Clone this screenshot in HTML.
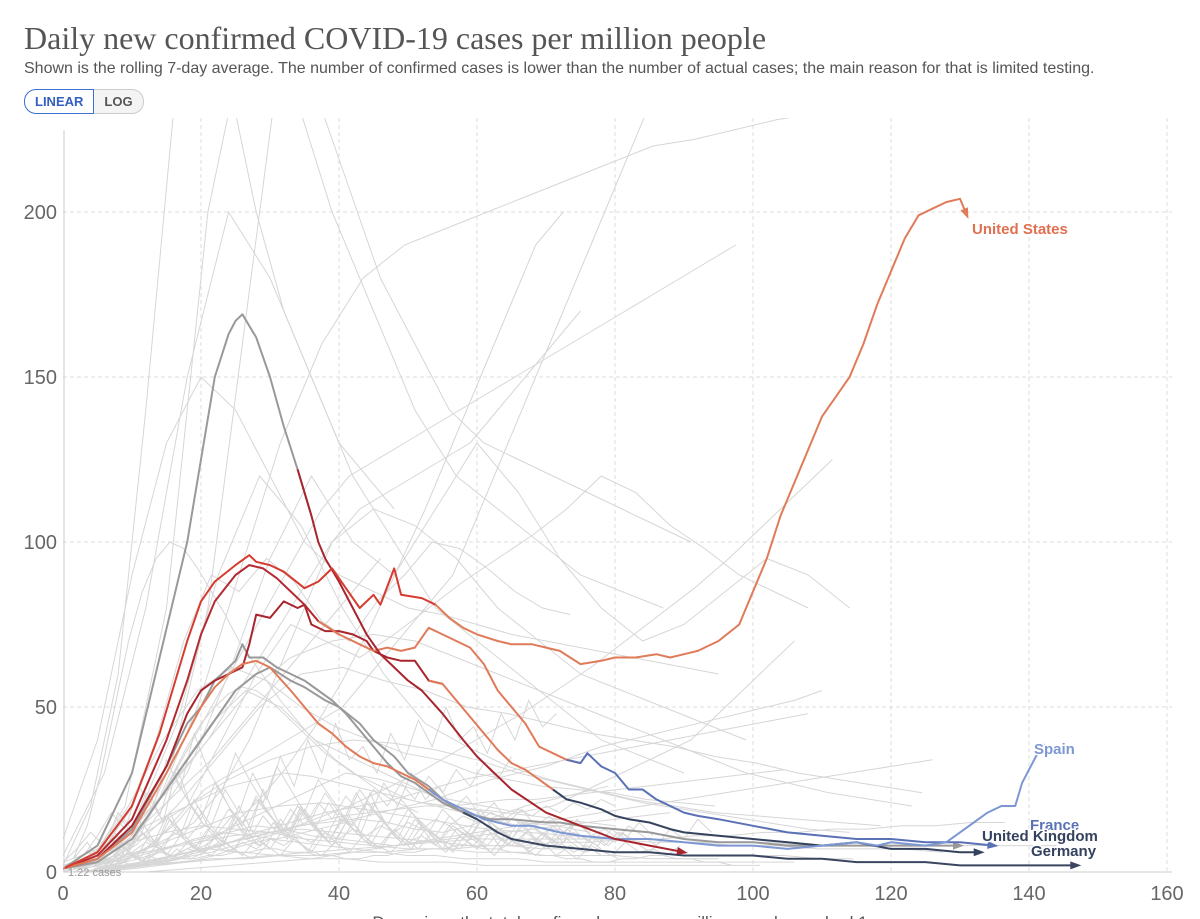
<!DOCTYPE html>
<html><head><meta charset="utf-8"><style>
body{margin:0;background:#fff;font-family:"Liberation Sans",sans-serif;}
#wrap{position:relative;width:1200px;height:919px;overflow:hidden;}
h1{position:absolute;left:24px;top:20px;margin:0;font-family:"Liberation Serif",serif;font-weight:normal;font-size:32px;color:#555;}
.sub{position:absolute;left:24px;top:60px;font-size:16px;color:#555;}
.btns{position:absolute;left:24px;top:89px;display:flex;}
.btn{font-size:13px;font-weight:bold;padding:4px 10px;border:1px solid #ccc;color:#555;background:#f4f4f4;}
.btn.on{color:#3360c0;border:1px solid #3b6fd0;background:#fff;border-radius:12px 0 0 12px;}
.btn.off{border-radius:0 12px 12px 0;border-left:none;}
</style></head><body><div id="wrap">
<h1>Daily new confirmed COVID-19 cases per million people</h1>
<div class="sub">Shown is the rolling 7-day average. The number of confirmed cases is lower than the number of actual cases; the main reason for that is limited testing.</div>
<div class="btns"><div class="btn on">LINEAR</div><div class="btn off">LOG</div></div>
<svg id="svg" width="1200" height="919" style="position:absolute;left:0;top:0"></svg>
</div>
<script>
const xTicks=[0,20,40,60,80,100,120,140,160];
const yTicks=[0,50,100,150,200];
const bgSeries=[
[2,20,60,140,230,260,240,200,170,150,130,120,110],
[1,5,15,30,45,55,50,40,35,30,25,20,18,15,14,12],
[3,10,25,40,60,80,100,110,105,95,80,70,60,55,50,45,40],
[1,3,8,15,25,30,35,40,45,50,60,70,80,90,110,130,150,170,190,210,230],
[0,2,5,10,15,20,25,30,28,25,22,20,18,20,25,30,35,40,50,60,70],
[5,30,80,150,200,180,150,120,100,80,70,60,50,40,35,30],
[1,4,10,20,35,50,65,80,95,110,120,125,130,135,140,145,150,155,160,165,170,175,180,185,190],
[0,1,3,5,8,12,15,18,20,22,25,28,30,32,34,36,38,40,42,44,46,48],
[2,8,20,35,50,60,62,58,55,50,48,45,42,40,38,35,33,30,28,26,24],
[1,2,4,6,8,10,12,14,15,16,18,20,22,25,28,30,32,35,38,40,42,44,46,48,50,52,55],
[10,40,90,130,150,140,120,100,90,85,80,78,75,72,70,68,66,64,62,60],
[0,5,20,50,90,130,160,180,190,195,200,205,210,215,220,222,225,228,230],
[1,3,6,10,15,25,40,60,80,100,110,115,120,125,130,140,150,160,170],
[2,4,7,9,11,12,13,12,11,10,9,8,8,7,7,6,6,5,5,5,5,4,4],
[1,2,3,4,5,6,7,8,9,10,10,10,10,10,9,9,9,8,8,8,8,8,8,8],
[3,6,10,14,18,22,26,28,30,29,27,25,23,21,20,19,18,17,16,15,14],
[0,1,2,4,6,9,12,16,20,25,30,36,42,48,55,62,70,78,86,95,105,115,125],
[4,12,24,40,55,65,70,72,70,65,60,55,50,45,40,35,30,27,24,22,20],
[1,2,3,5,7,9,11,13,15,17,18,19,20,20,21,22,22,23,24,25,26,27,28,29,30,31],
[2,10,35,80,160,240,240,210,180,160,140,130,125,120,115,110,105,100],
[0,3,12,30,60,95,120,100,90,110,130,115,95,80,70,75,85,95,90,80],
[1,6,18,40,70,90,85,95,88,76,70,82,90,100,98,92,85,80,78],
[0,2,8,20,40,60,75,70,65,72,80,88,95,102,110,120,115,105,98,90,85,80],
[3,15,45,90,120,105,80,60,45,38,32,28,25,22,20,18,17,16,15,14],
[0,1,2,3,5,8,10,9,8,7,6,5,5,4,4,4,3,3,3,3,3,3,3,3,3,3],
[2,5,9,12,14,13,12,10,9,8,7,7,6,6,5,5,5,4,4,4],
[1,4,8,13,18,20,21,19,17,15,13,12,11,10,9,9,8,8,7,7,7,6],
[0,2,4,7,10,12,11,10,12,14,16,15,13,12,14,17,20,22,24,26],
[5,20,40,55,62,58,50,44,40,36,34,30,28,26,25,24,22,21,20],
[0,0,1,2,3,4,6,8,10,12,14,16,18,20,22,24,26,28,30,32,34],
[2,3,5,6,8,10,12,14,13,11,10,9,8,9,10,11,12,13,14,15,16,17,18],
[1,2,2,3,4,4,5,5,6,6,7,7,8,8,9,9,10,10,11,11,12,12,13,13,14,14,15,15],
[0,20,80,200,260,240,200,170,140,120,110,100,90,85,80],
[0,1,2,4,8,14,22,32,44,58,74,92,110,130,150,170,190,200],
[1,3,5,7,6,5,4,4,3,3,3,2,2,2,2,2,2,2,2,2],
[2,6,12,20,28,34,38,40,39,37,34,30,27,24,21,19,17,15,13,12],
[4,9,3,12,6,15,8,18,10,7,14,9,20,12,8,16,11,6,13,9,17,10,7,12,8,15,9,6,11,8,13,7,10,6,9,5,8,6,7,5,9,6,7,5,8],
[1,6,10,5,13,8,17,11,22,14,9,18,12,25,16,10,19,13,8,15,11,21,14,9,16,12,7,13,10,17,11,8,12,9,14,10,7,11,8,12,9,6,10],
[2,3,8,4,11,7,14,9,6,12,17,10,8,15,11,20,13,9,16,12,24,15,10,18,13,9,14,11,19,12,8,15,10,13,9,16,11,8,12,10],
[0,2,5,3,7,4,9,6,11,8,5,10,7,13,9,6,12,8,15,10,7,13,9,11,8,14,10,7,12,9,15,11,8,13,10,7,12,9,14,11,8,13,10,16,12],
[3,7,12,8,18,13,24,17,30,22,16,27,20,14,23,17,12,20,15,10,18,13,9,16,12,8,14,11,7,12,9,6,11,8,10,7,9,6,8,5],
[1,2,4,2,6,3,8,5,4,7,5,9,6,4,8,5,10,7,5,9,6,11,8,6,10,7,12,9,7,11,8,13,9,7,12,9,14,10,8,13,10,15,11],
[5,11,18,13,26,19,34,25,42,31,24,36,28,21,32,25,18,28,22,16,25,19,14,22,17,12,19,15,11,17,13,10,15,12,9,13,10],
[0,1,3,2,5,3,7,4,6,9,6,12,8,15,10,18,13,21,15,24,17,27,20,30,22,26,19,23,17,21,15,19,14,17,12,15,11,13,10],
[2,4,6,9,7,12,10,15,12,19,15,22,17,13,20,16,24,18,14,21,16,12,19,15,11,17,13,10,15,12,9,14,11,8,12,10,7],
[1,3,2,4,3,5,4,6,5,7,6,8,6,9,7,10,8,11,9,12,10,13,11,14,12,15,13,16,14,17,15,18,16,19,17,20,18,21,19,22,20],
[3,6,4,9,6,12,8,16,11,20,14,25,18,30,22,35,26,40,30,45,34,38,30,42,34,46,38,50,40,44,36,48,40,52,44,48],
[0,1,1,2,2,3,3,4,4,5,5,6,6,7,7,6,6,5,5,4,4,5,5,6,6,7,7,8,8,7,7,6,6,5,5,4,4,3,3,4,4,5,5,4,4,3,3,2],
[2,8,16,10,24,15,32,20,14,26,18,12,22,16,10,19,14,9,17,12,8,15,11,7,13,10,6,12,9,5,10,8,5,9,7,4,8,6,4],
[1,4,9,15,22,30,38,45,50,54,56,55,52,48,44,40,36,33,30,28,26,24,22,21,20,19,18,17,16,15,14,14,13,13],
[0,2,4,6,9,12,15,19,23,27,31,35,40,45,50,55,60,65,70,75,80,85,90,95],
[4,14,30,50,70,85,95,100,98,92,85,78,70,64,58,52,47,42,38,34,31,28,25,22,20,18],
[2,5,3,7,4,9,5,11,7,13,8,15,10,17,12,19,14,21,16,23,18,25,20,27,22,29,24,31,26,33,28,35]
];
const spainDays=[0,5,10,15,18,20,22,24,26,28,30,33,35,37,39,41,43,45,47,49,51,53,55,57,59,61,63,65,68,70,72,75,80,85,90,95,100,105,110,115,118,120,125,128,130,132,134,136,138,139,140,141,142];
const spainVals=[1,4,12,30,42,50,56,60,63,64,62,55,50,45,42,38,35,33,32,30,28,25,22,20,18,16,15,14,14,13,12,11,10,10,9,8,8,7,8,9,8,9,8,9,12,15,18,20,20,27,31,35,38];
const usDays=[0,5,10,14,18,20,22,25,27,28,30,32,35,37,39,41,43,45,46,48,49,52,54,56,58,60,63,65,68,70,72,75,78,80,83,86,88,90,92,95,98,100,102,104,106,108,110,112,114,116,118,120,122,124,126,128,130,131];
const usVals=[1,6,20,42,70,82,88,93,96,94,93,91,86,88,92,86,80,84,81,92,84,83,81,77,74,72,70,69,69,68,67,63,64,65,65,66,65,66,67,70,75,85,95,108,118,128,138,144,150,160,172,182,192,199,201,203,204,199];
const grayPeakDays=[0,5,10,14,18,20,22,24,25,26,28,30,32,34,36,37,38,40,42,44,46,48,50,52,55,58,60,65,70,75,80,85,90];
const grayPeakVals=[1,8,30,65,100,125,150,163,167,169,162,150,135,122,108,100,95,88,80,72,66,62,58,55,48,40,35,25,18,14,10,8,6];
const franceDays=[0,5,10,15,18,20,22,25,27,29,31,33,35,37,40,43,45,47,49,51,53,55,57,59,61,63,65,67,69,71,73,75,76,78,80,82,84,86,88,90,92,95,100,105,110,115,120,125,130,135];
const franceVals=[1,5,16,40,58,72,82,90,93,92,89,85,81,76,72,69,67,68,67,68,74,72,70,68,63,55,50,45,38,36,34,33,36,32,30,25,25,22,20,18,17,16,14,12,11,10,10,9,9,8];
const ukDays=[0,5,10,15,18,20,22,24,26,27,28,30,32,34,35,36,38,40,42,44,45,47,49,51,53,55,57,59,61,63,65,67,69,71,73,75,78,80,82,85,88,90,95,100,105,110,115,120,125,130,133];
const ukVals=[1,4,14,32,48,55,58,60,62,69,78,77,82,80,81,75,73,73,72,70,67,65,64,64,58,57,52,47,42,37,33,31,28,25,22,21,19,17,16,15,13,12,11,10,9,8,9,7,7,6,6];
const grayDays=[0,5,10,15,18,20,22,25,26,27,29,31,33,35,37,39,41,43,45,47,49,51,53,55,57,60,62,65,70,72,75,80,85,90,95,100,105,110,115,120,125,130];
const grayVals=[1,4,13,32,45,50,58,64,69,65,65,62,60,58,55,52,48,43,38,33,29,27,24,21,19,17,16,16,15,15,14,13,12,10,9,9,8,8,8,8,8,8];
const deDays=[0,5,10,15,20,25,28,30,33,35,38,40,43,45,48,50,53,55,58,60,63,65,70,75,80,85,90,95,100,105,110,115,120,125,130,135,140,147];
const deVals=[1,3,10,25,40,55,60,62,58,56,52,50,45,40,35,30,26,22,18,16,12,10,8,7,6,6,5,5,5,4,4,3,3,3,2,2,2,2];

const svg=document.getElementById('svg');const NS='http://www.w3.org/2000/svg';
const X=d=>63+d*6.9, Y=v=>872-v*3.3;
function mk(t,a,p){const e=document.createElementNS(NS,t);for(const k in a)e.setAttribute(k,a[k]);(p||svg).appendChild(e);return e;}
const clip=mk('clipPath',{id:'c'});mk('rect',{x:63,y:118,width:1110,height:756},clip);
yTicks.forEach(v=>{if(v>0){const l=mk('line',{x1:63,x2:1172,y1:Y(v),y2:Y(v),stroke:'#ddd','stroke-dasharray':'4,3'});

}
const t=mk('text',{x:57,y:Y(v)+7,'text-anchor':'end','font-size':20,fill:'#666'});t.textContent=v;

});
xTicks.forEach(d=>{if(d>0){const l=mk('line',{x1:X(d),x2:X(d),y1:118,y2:872,stroke:'#ddd','stroke-dasharray':'4,3'});

}
const t=mk('text',{x:X(d),y:900,'text-anchor':'middle','font-size':20,fill:'#666'});t.textContent=d;

});
const g=mk('g',{'clip-path':'url(#c)'});
bgSeries.forEach((s,i)=>{const st=(i%5)*1.5;const step=i>=36?2:(4+(i%3));const pts=s.map((v,j)=>X(st+j*step)+','+Y(v)).join(' ');
const p=mk('polyline',{points:pts,fill:'none',stroke:'#d6d6d6','stroke-width':1},g);

});
function seg(days,vals,ranges,name){ranges.forEach(r=>{const pts=[];days.forEach((d,i)=>{const inR=d>=r[0]&&d<=r[1];const nextIn=i+1<days.length&&days[i+1]>=r[0]&&days[i+1]<=r[1]&&d<r[0];if(inR||nextIn)pts.push(X(d)+','+Y(vals[i]));});
const p=mk('polyline',{points:pts.join(' '),fill:'none',stroke:r[2],'stroke-width':2,'stroke-linejoin':'round'},g);

});
const n=days.length-1;const x=X(days[n]),y=Y(vals[n]);const c=ranges[ranges.length-1][2];
const dx=x-X(days[n-1]),dy=y-Y(vals[n-1]);const a=Math.atan2(dy,dx);
const ar=mk('polygon',{points:`${x+4*Math.cos(a)},${y+4*Math.sin(a)} ${x-7*Math.cos(a)+4*Math.sin(a)},${y-7*Math.sin(a)-4*Math.cos(a)} ${x-7*Math.cos(a)-4*Math.sin(a)},${y-7*Math.sin(a)+4*Math.cos(a)}`,fill:c},g);

}
seg(grayDays,grayVals,[[0,200,'#999']],'gray-country-line');
seg(deDays,deVals,[[0,60,'#9a9a9a'],[60,200,'#3a4560']],'germany-line');
seg(ukDays,ukVals,[[0,55,'#a8252d'],[55,72,'#e07b5a'],[72,200,'#34425e']],'united-kingdom-line');
seg(franceDays,franceVals,[[0,40,'#b52a30'],[40,75,'#e07b5a'],[75,200,'#5a72b5']],'france-line');
seg(spainDays,spainVals,[[0,55,'#e07b5a'],[55,200,'#7d97d3']],'spain-line');
seg(grayPeakDays,grayPeakVals,[[0,36,'#999'],[36,200,'#a8252d']],'peak-country-line');
seg(usDays,usVals,[[0,55,'#d63b30'],[55,200,'#e07b5a']],'united-states-line');
mk('line',{x1:63,x2:1172,y1:872,y2:872,stroke:'#ccc'});
mk('line',{x1:64,x2:64,y1:130,y2:872,stroke:'#ccc'});
function lab(txt,x,y,c,n){const t=mk('text',{x:x,y:y,'font-size':15,'font-weight':'bold',fill:c,stroke:'#fff','stroke-width':3,'paint-order':'stroke'});t.textContent=txt;

}
lab('United States',972,234,'#e07050','label-united-states');
lab('Spain',1034,754,'#7d97d3','label-spain');
lab('France',1030,830,'#5a72b5','label-france');
lab('United Kingdom',982,841,'#34425e','label-united-kingdom');
lab('Germany',1031,856,'#34425e','label-germany');
const c=mk('text',{x:68,y:876,'font-size':11,fill:'#999'});c.textContent='1.22 cases';


const xt=mk('text',{x:620,y:928,'text-anchor':'middle','font-size':17,fill:'#555'});xt.textContent='Days since the total confirmed cases per million people reached 1';


</script></body></html>
